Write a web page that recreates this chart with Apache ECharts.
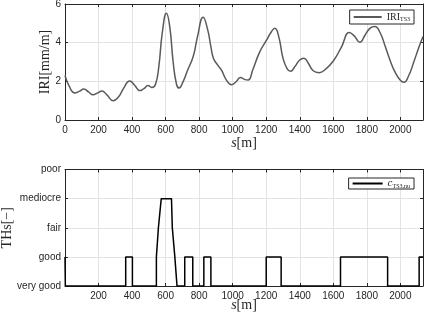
<!DOCTYPE html>
<html>
<head>
<meta charset="utf-8">
<script src="https://cdn.jsdelivr.net/npm/echarts@6/dist/echarts.min.js"></script>
<style>
html,body{margin:0;padding:0;background:#fff;}
#c{width:424px;height:318px;}
</style>
</head>
<body>
<div id="c"></div>
<script>
// ---- data ----
const iriS = [0,25,58,85,112,140,167,195,220,250,287,320,350,386,415,446,470,495,518,540,560,580,605,625,645,665,680,705,730,765,790,824,850,870,885,910,935,960,993,1020,1047,1070,1092,1120,1160,1200,1230,1251,1275,1300,1325,1345,1370,1400,1425,1450,1480,1516,1550,1600,1650,1695,1725,1758,1790,1820,1848,1880,1910,1940,1970,2000,2021,2050,2080,2110,2135];
const iriVal = [2.30,1.75,1.40,1.48,1.60,1.45,1.30,1.40,1.50,1.30,1.00,1.20,1.65,2.02,1.80,1.52,1.62,1.78,1.68,1.85,2.80,4.50,5.52,4.80,3.00,1.85,1.65,2.00,2.55,3.30,4.30,5.32,4.70,3.80,3.20,2.85,2.55,2.10,1.82,1.98,2.20,2.10,2.07,2.60,3.50,4.10,4.55,4.74,4.30,3.20,2.65,2.52,2.75,3.10,3.19,2.95,2.55,2.45,2.60,3.05,3.80,4.52,4.35,4.02,4.40,4.75,4.83,4.50,3.80,3.05,2.45,2.05,1.95,2.30,3.00,3.75,4.32];
const thS = [0,2,362,362,402,402,545,545,549,557,562,574,635,640,648,655,666,668,714,714,762,762,828,828,870,870,1200,1200,1289,1289,1643,1643,1924,1924,2112,2112,2135];
const thLevel = [1,0,0,1,1,0,0,1,1,2,2,3,3,2,2,1,1,0,0,1,1,0,0,1,1,0,0,1,1,0,0,1,1,0,0,1,1];
const thLabels = ['very good','good','fair','mediocre','poor'];
const xMax = 2135;

const pairs = (a,b)=>a.map((v,i)=>[v,b[i]]);
const axisCol = '#262626';
const gridCol = '#e3e3e3';
const tickFont = {fontFamily:'Liberation Sans, Arial, sans-serif', fontSize:10, color:axisCol};
const serif = 'Liberation Serif, Times New Roman, serif';
const aLine = {show:true, onZero:false, lineStyle:{color:axisCol,width:1}};
const aTick = {show:true, inside:true, length:3, lineStyle:{color:axisCol}};

function xBottom(gi, showMin, nameGap){
  return {type:'value', gridIndex:gi, min:0, max:xMax, interval:200, position:'bottom',
    axisLine:aLine, axisTick:aTick,
    axisLabel:Object.assign({margin:5, showMinLabel:showMin, showMaxLabel:false, formatter:(v)=>String(v)}, tickFont),
    splitLine:{show:true,lineStyle:{color:gridCol,width:1}},
    name:'{i|s}{n|[m]}', nameLocation:'middle', nameGap:nameGap, nameMoveOverlap:false,
    nameTextStyle:{rich:{i:{fontFamily:serif,fontStyle:'italic',fontSize:14,color:axisCol},n:{fontFamily:serif,fontSize:14,color:axisCol}}}
  };
}
function xTop(gi){
  return {type:'value', gridIndex:gi, min:0, max:xMax, interval:200, position:'top',
    axisLine:aLine, axisTick:aTick, axisLabel:{show:false}, splitLine:{show:false}};
}
function yRight(gi, max){
  return {type:'value', gridIndex:gi, min:0, max:max, interval:max===6?2:1, position:'right',
    axisLine:aLine, axisTick:aTick, axisLabel:{show:false}, splitLine:{show:false}};
}

const chart = echarts.init(document.getElementById('c'), null, {renderer:'canvas'});
chart.setOption({
  animation:false,
  backgroundColor:'#fff',
  grid:[
    {left:65, right:1, top:4, height:116, outerBoundsMode:'none', containLabel:false},
    {left:65, right:1, top:169.5, height:116.5, outerBoundsMode:'none', containLabel:false}
  ],
  legend:[
    {data:['IRI'], right:10, top:10, orient:'horizontal', itemWidth:28, itemHeight:2, itemGap:4,
     padding:[2,4,2,4], borderColor:axisCol, borderWidth:1, backgroundColor:'#fff', borderRadius:0,
     icon:'rect',
     formatter:()=> '{a|IRI}{b|TS3}',
     textStyle:{rich:{a:{fontFamily:serif,fontSize:10,color:axisCol},b:{fontFamily:serif,fontSize:6,color:axisCol,padding:[4,0,0,0]}}}
    },
    {data:['cTS'], right:10, top:178, orient:'horizontal', itemWidth:30, itemHeight:2, itemGap:4,
     padding:[0,4,0,4], borderColor:axisCol, borderWidth:1, backgroundColor:'#fff', borderRadius:0,
     icon:'rect',
     formatter:()=> '{a|c}{b|TS3,nu}',
     textStyle:{rich:{a:{fontFamily:serif,fontStyle:'italic',fontSize:11,color:axisCol},b:{fontFamily:serif,fontSize:6,color:axisCol,padding:[5,0,0,0]}}}
    }
  ],
  xAxis:[xBottom(0,true,16), xTop(0), xBottom(1,false,12), xTop(1)],
  yAxis:[
    {type:'value', gridIndex:0, min:0, max:6, interval:2, position:'left',
     axisLine:aLine, axisTick:aTick,
     axisLabel:Object.assign({margin:4}, tickFont),
     splitLine:{show:true,lineStyle:{color:gridCol}},
     name:'IRI[mm/m]', nameLocation:'middle', nameGap:13, nameMoveOverlap:false,
     nameTextStyle:{fontFamily:serif,fontSize:14,color:axisCol}},
    yRight(0,6),
    {type:'value', gridIndex:1, min:0, max:4, interval:1, position:'left',
     axisLine:aLine, axisTick:aTick,
     axisLabel:Object.assign({margin:4, formatter:(v)=>thLabels[v]}, tickFont),
     splitLine:{show:true,lineStyle:{color:gridCol}},
     name:'THs[−]', nameLocation:'middle', nameGap:51, nameMoveOverlap:false,
     nameTextStyle:{fontFamily:serif,fontSize:14,color:axisCol}},
    yRight(1,4)
  ],
  series:[
    {name:'IRI', type:'line', xAxisIndex:0, yAxisIndex:0, data:pairs(iriS,iriVal), smooth:0.5,
     showSymbol:false, lineStyle:{color:'#5a5a5a',width:1.5}, itemStyle:{color:'#5a5a5a'}},
    {name:'cTS', type:'line', xAxisIndex:2, yAxisIndex:2, data:pairs(thS,thLevel),
     showSymbol:false, lineStyle:{color:'#000',width:1.5}, itemStyle:{color:'#000'}}
  ]
});
</script>
</body>
</html>
